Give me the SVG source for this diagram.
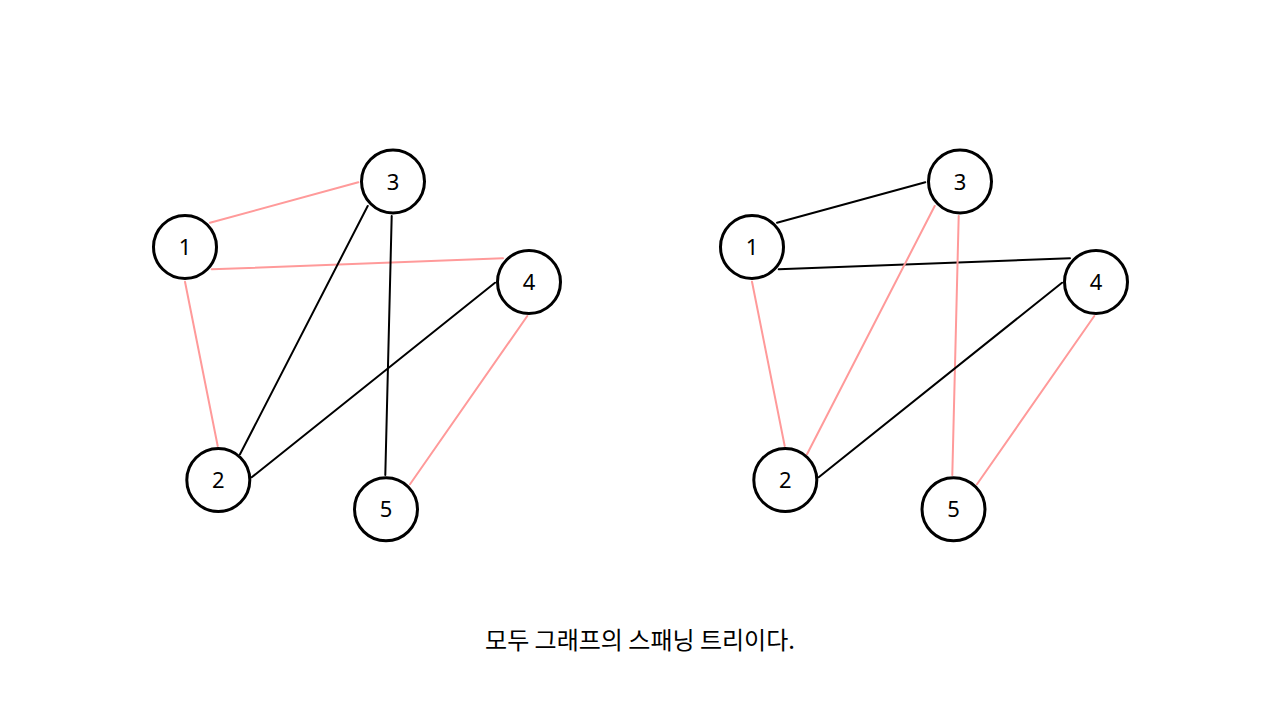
<svg xmlns="http://www.w3.org/2000/svg" width="1280" height="720" viewBox="0 0 1280 720">
<style>
.e{stroke-width:2;fill:none;stroke-linecap:round}
.k{stroke:#000}
.p{stroke:#ff9a9a}
.n circle{fill:#fff;stroke:#000;stroke-width:3}
.n text{font-family:"Noto Sans","DejaVu Sans",sans-serif;font-size:22px;text-anchor:middle;fill:#000}
.cap{font-family:"Noto Sans CJK KR","Noto Sans",sans-serif;font-size:24px;text-anchor:middle;fill:#000}
</style>
<rect width="1280" height="720" fill="#fff"/>
<g id="connectors-left">
<line class="e p" x1="210" y1="222.7" x2="358.3" y2="182.3"/>
<line class="e p" x1="211.7" y1="269.3" x2="503" y2="258.3"/>
<line class="e p" x1="185" y1="281.7" x2="217.7" y2="446"/>
<line class="e k" x1="367.7" y1="206" x2="240" y2="454.3"/>
<line class="e k" x1="391.7" y1="216" x2="385.3" y2="475"/>
<line class="e k" x1="495" y1="282.7" x2="251.7" y2="477.3"/>
<line class="e p" x1="527.3" y1="316" x2="410" y2="484.3"/>
</g>
<g id="connectors-right">
<line class="e k" x1="777" y1="222.7" x2="925.3" y2="182.3"/>
<line class="e k" x1="778.7" y1="269.3" x2="1070" y2="258.3"/>
<line class="e p" x1="752" y1="281.7" x2="784.7" y2="446"/>
<line class="e p" x1="934.7" y1="206" x2="807" y2="454.3"/>
<line class="e p" x1="958.7" y1="216" x2="952.3" y2="475"/>
<line class="e k" x1="1062" y1="282.7" x2="818.7" y2="477.3"/>
<line class="e p" x1="1094.3" y1="316" x2="977" y2="484.3"/>
</g>
<g id="L1" class="n"><circle cx="185" cy="247" r="31.5"/><text x="185" y="255">1</text></g>
<g id="L3" class="n"><circle cx="393" cy="181.5" r="31.5"/><text x="393" y="189.5">3</text></g>
<g id="L4" class="n"><circle cx="529" cy="282" r="31.5"/><text x="529" y="290">4</text></g>
<g id="L2" class="n"><circle cx="218.3" cy="480" r="31.5"/><text x="218.3" y="488">2</text></g>
<g id="L5" class="n"><circle cx="386" cy="509.3" r="31.5"/><text x="386" y="517.3">5</text></g>
<g id="R1" class="n"><circle cx="752" cy="247" r="31.5"/><text x="752" y="255">1</text></g>
<g id="R3" class="n"><circle cx="960" cy="181.5" r="31.5"/><text x="960" y="189.5">3</text></g>
<g id="R4" class="n"><circle cx="1096" cy="282" r="31.5"/><text x="1096" y="290">4</text></g>
<g id="R2" class="n"><circle cx="785.3" cy="480" r="31.5"/><text x="785.3" y="488">2</text></g>
<g id="R5" class="n"><circle cx="953.5" cy="509.3" r="31.5"/><text x="953.5" y="517.3">5</text></g>
<text class="cap" x="640" y="649">모두 그래프의 스패닝 트리이다.</text>
</svg>
